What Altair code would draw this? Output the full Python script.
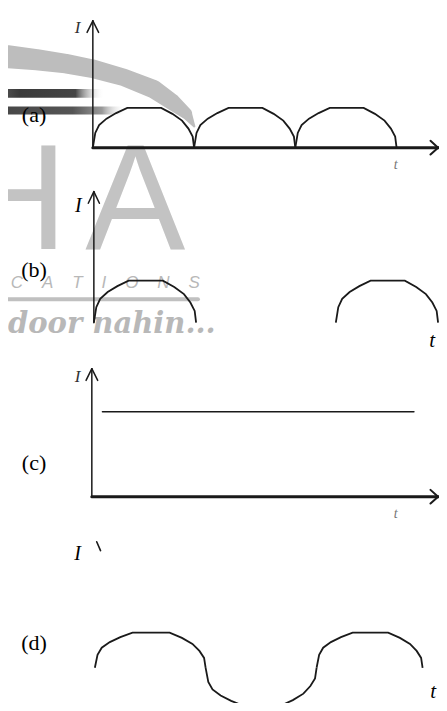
import altair as alt
import pandas as pd

# ---------------- data (diagram units: t = time in half-periods, i = current in units of peak) -------------
W = 431
HEIGHTS = [166, 181, 171, 177]
T_DOMAIN = [-0.838, 3.419]
I_DOMAIN = {"a": [-0.663, 3.513], "b": [-0.767, 3.535], "c": [-0.345, 1.667], "d": [-1.0, 4.028]}

# shape of one hump: fraction across the hump, fraction of the peak
hump_f = [0, 0.024, 0.062, 0.135, 0.23, 0.34, 0.675, 0.786, 0.881, 0.944, 0.986, 1.0]
hump_h = [0, 0.37, 0.57, 0.73, 0.87, 1.0, 1.0, 0.85, 0.68, 0.48, 0.28, 0]

a_starts, a_ends, a_amps = [0, 1, 2], [1, 2, 3], [1, 1, 1]
b_starts, b_ends, b_amps = [0.01, 2.4], [1.02, 3.41], [1, 1]
c_level, c_from, c_to = 1.0, 0.095, 3.171
d_starts, d_ends, d_amps = [0.02, 1.114, 2.21], [1.114, 2.21, 3.257], [1, -1.08, 1]

# axes with arrow heads: (t, i, t2, i2)
a_yaxis = [(0, 0, 0, 3.19), (0, 3.19, -0.057, 2.90), (0, 3.19, 0.057, 2.90)]
a_xaxis = [(0, 0, 3.41, 0)]
a_xhead = [(3.41, 0, 3.335, 0.172), (3.41, 0, 3.335, -0.172)]
b_yaxis = [(0.01, 0, 0.01, 3.116), (0.01, 3.116, -0.045, 2.84), (0.01, 3.116, 0.065, 2.84)]
c_yaxis = [(-0.01, 0, -0.01, 1.506), (-0.01, 1.506, -0.067, 1.368), (-0.01, 1.506, 0.048, 1.368)]
c_xaxis = [(-0.01, 0, 3.41, 0)]
c_xhead = [(3.41, 0, 3.335, 0.08), (3.41, 0, 3.335, -0.08)]
d_mark = [(0.038, 3.58, 0.076, 3.33)]

# labels: (text, t, i)
a_labels = [("(a)", -0.581, 0.81)]
b_labels = [("(b)", -0.581, 1.256)]
c_labels = [("(c)", -0.581, 0.402)]
d_labels = [("(d)", -0.581, 0.694)]
a_cur = [("I", -0.152, 3.0)]
b_cur = [("I", -0.143, 2.77)]
c_cur = [("I", -0.152, 1.414)]
d_cur = [("I", -0.152, 3.22)]
a_time = [("t", 2.99, -0.44)]
c_time = [("t", 2.99, -0.207)]
b_time = [("t", 3.352, -0.44)]
d_time = [("t", 3.362, -0.694)]

# publisher watermark (grey), in panel (a)/(b) units
swoosh_t = [-0.838, -0.552, -0.267, -0.010, 0.305, 0.600, 0.781, 0.924, 1.000]
swoosh_i = [2.285, 2.211, 2.113, 1.990, 1.769, 1.474, 1.155, 0.860, 0.541]
swoosh_w = [23, 21, 19.5, 18.5, 17.5, 18.5, 16.5, 11.5, 2.5]
bar1 = (-0.838, 1.474, 0.114, 1.253)
bar2 = (-0.838, 1.032, 0.324, 0.835)
wm_H_a, wm_A_a = ("H", -1.32, -2.555), ("A", -0.076, -2.555)
wm_H_b, wm_A_b = ("H", -1.32, 1.744), ("A", -0.076, 1.744)
NB = "\u00a0" * 4
wm_cations = [(NB.join("CATIONS"), -0.81, 0.814)]
wm_line = [(-0.838, 0.558, 1.038, 0.558)]
wm_door = [("door nahin...", -0.838, -0.233)]

# ---------------- helpers -------------
INK = "#1a1a1a"
GREY = "#bdbdbd"
SERIF = "Liberation Serif, Times New Roman, serif"


def xs():
    return alt.X("t:Q", scale=alt.Scale(domain=T_DOMAIN, nice=False, zero=False), axis=None)


def ys(p):
    return alt.Y("i:Q", scale=alt.Scale(domain=I_DOMAIN[p], nice=False, zero=False), axis=None)


def hump_df(starts, ends, amps):
    rows = []
    for k, (s, e, a) in enumerate(zip(starts, ends, amps)):
        for j, (f, h) in enumerate(zip(hump_f, hump_h)):
            rows.append({"seg": k, "ord": k * 100 + j, "t": s + f * (e - s), "i": a * h})
    return pd.DataFrame(rows)


def curve(p, df, sw=1.8):
    return alt.Chart(df).mark_line(color=INK, strokeWidth=sw, clip=True).encode(
        x=xs(), y=ys(p), detail="seg:N", order="ord:Q")


def rules(p, segs, sw, color=INK):
    df = pd.DataFrame(segs, columns=["t", "i", "t2", "i2"])
    return alt.Chart(df).mark_rule(color=color, strokeWidth=sw, strokeCap="round", clip=True).encode(
        x=xs(), y=ys(p), x2="t2:Q", y2="i2:Q")


def texts(p, items, **kw):
    df = pd.DataFrame(items, columns=["label", "t", "i"])
    return alt.Chart(df).mark_text(clip=True, **kw).encode(x=xs(), y=ys(p), text="label:N")


def ha(p, h, a):
    return texts(p, [h, a], font="Liberation Sans", fontSize=150, color="#c3c3c3",
                 align="left", baseline="alphabetic")


LABEL = dict(font=SERIF, fontSize=22, color="black", align="center", baseline="middle")
CUR = dict(font=SERIF, fontSize=20, fontStyle="italic", color="black", align="center", baseline="middle")
CUR_THIN = dict(font=SERIF, fontSize=17, fontStyle="italic", color="#333333", align="center", baseline="middle")
TIME = dict(font=SERIF, fontSize=21, fontStyle="italic", color="black", align="center", baseline="middle")
TIME_FAINT = dict(font=SERIF, fontSize=14, fontStyle="italic", color="#777777", align="center", baseline="middle")

# ---------------- panel (a) -------------
swoosh = alt.Chart(pd.DataFrame({"t": swoosh_t, "i": swoosh_i, "w": swoosh_w})).mark_trail(
    color=GREY, clip=True).encode(x=xs(), y=ys("a"), size=alt.Size("w:Q", scale=None, legend=None))


def bar(b, stops):
    df = pd.DataFrame([b], columns=["t", "i", "t2", "i2"])
    grad = {"gradient": "linear", "x1": 0, "x2": 1, "y1": 0, "y2": 0,
            "stops": [{"offset": o, "color": c} for o, c in stops]}
    return alt.Chart(df).mark_rect(fill=grad, clip=True).encode(x=xs(), y=ys("a"), x2="t2:Q", y2="i2:Q")


bars = [
    bar(bar1, [(0, "#4a4a4a"), (0.12, "#3a3a3a"), (0.7, "#454545"), (1, "rgba(255,255,255,0)")]),
    bar(bar2, [(0, "#484848"), (0.55, "#555555"), (0.8, "#9a9a9a"), (1, "rgba(255,255,255,0)")]),
]

panel_a = alt.layer(
    ha("a", wm_H_a, wm_A_a), swoosh, *bars,
    rules("a", a_yaxis, 1.5), rules("a", a_xaxis, 3), rules("a", a_xhead, 2),
    curve("a", hump_df(a_starts, a_ends, a_amps)),
    texts("a", a_labels, **LABEL), texts("a", a_cur, **CUR_THIN), texts("a", a_time, **TIME_FAINT),
).properties(width=W, height=HEIGHTS[0])

# ---------------- panel (b) -------------
panel_b = alt.layer(
    ha("b", wm_H_b, wm_A_b),
    texts("b", wm_cations, font="Liberation Sans", fontSize=17, fontStyle="italic", color="#b8b8b8",
          align="left", baseline="alphabetic"),
    rules("b", wm_line, 4, color="#c0c0c0"),
    texts("b", wm_door, font="DejaVu Serif", fontSize=29, fontStyle="italic", fontWeight="bold",
          color="#b8b8b8", align="left", baseline="alphabetic"),
    rules("b", b_yaxis, 1.5),
    curve("b", hump_df(b_starts, b_ends, b_amps)),
    texts("b", b_labels, **LABEL), texts("b", b_cur, **CUR), texts("b", b_time, **TIME),
).properties(width=W, height=HEIGHTS[1])

# ---------------- panel (c) -------------
panel_c = alt.layer(
    rules("c", c_yaxis, 1.5), rules("c", c_xaxis, 3), rules("c", c_xhead, 2),
    rules("c", [(c_from, c_level, c_to, c_level)], 1.6),
    texts("c", c_labels, **LABEL), texts("c", c_cur, **CUR_THIN), texts("c", c_time, **TIME_FAINT),
).properties(width=W, height=HEIGHTS[2])

# ---------------- panel (d) -------------
panel_d = alt.layer(
    curve("d", hump_df(d_starts, d_ends, d_amps)),
    rules("d", d_mark, 1.6),
    texts("d", d_labels, **LABEL), texts("d", d_cur, **CUR), texts("d", d_time, **TIME),
).properties(width=W, height=HEIGHTS[3])

chart = alt.vconcat(panel_a, panel_b, panel_c, panel_d, spacing=0).properties(
    padding=0, background="white").configure_view(strokeWidth=0)

chart.save("out.html", embed_options={"renderer": "svg", "actions": False})
